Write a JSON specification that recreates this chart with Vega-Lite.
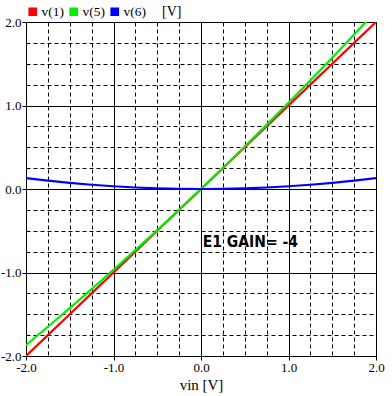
{
  "$schema": "https://vega.github.io/schema/vega-lite/v6.json",
  "width": 350,
  "height": 334,
  "autosize": "none",
  "padding": {"left": 26, "top": 22, "right": 16, "bottom": 40},
  "background": "white",
  "config": {
    "view": {"stroke": "black", "strokeWidth": 1},
    "axis": {
      "domainColor": "black",
      "gridColor": "black",
      "gridOpacity": 1,
      "gridWidth": 1,
      "tickColor": "black",
      "tickSize": 4,
      "labelFont": "Liberation Serif",
      "labelFontSize": 13,
      "labelColor": "black",
      "titleFont": "Liberation Serif",
      "titleFontSize": 15,
      "titleFontWeight": "normal",
      "titleColor": "black"
    }
  },
  "datasets": {
    "curves": [
      {"vin": -2, "series": "v(1)", "value": -2},
      {"vin": -1.75, "series": "v(1)", "value": -1.75},
      {"vin": -1.5, "series": "v(1)", "value": -1.5},
      {"vin": -1.25, "series": "v(1)", "value": -1.25},
      {"vin": -1, "series": "v(1)", "value": -1},
      {"vin": -0.75, "series": "v(1)", "value": -0.75},
      {"vin": -0.5, "series": "v(1)", "value": -0.5},
      {"vin": -0.25, "series": "v(1)", "value": -0.25},
      {"vin": 0, "series": "v(1)", "value": 0},
      {"vin": 0.25, "series": "v(1)", "value": 0.25},
      {"vin": 0.5, "series": "v(1)", "value": 0.5},
      {"vin": 0.75, "series": "v(1)", "value": 0.75},
      {"vin": 1, "series": "v(1)", "value": 1},
      {"vin": 1.25, "series": "v(1)", "value": 1.25},
      {"vin": 1.5, "series": "v(1)", "value": 1.5},
      {"vin": 1.75, "series": "v(1)", "value": 1.75},
      {"vin": 2, "series": "v(1)", "value": 2},
      {"vin": -2, "series": "v(5)", "value": -1.87},
      {"vin": -1.75, "series": "v(5)", "value": -1.65},
      {"vin": -1.5, "series": "v(5)", "value": -1.427},
      {"vin": -1.25, "series": "v(5)", "value": -1.199},
      {"vin": -1, "series": "v(5)", "value": -0.967},
      {"vin": -0.75, "series": "v(5)", "value": -0.732},
      {"vin": -0.5, "series": "v(5)", "value": -0.492},
      {"vin": -0.25, "series": "v(5)", "value": -0.248},
      {"vin": 0, "series": "v(5)", "value": 0},
      {"vin": 0.25, "series": "v(5)", "value": 0.252},
      {"vin": 0.5, "series": "v(5)", "value": 0.508},
      {"vin": 0.75, "series": "v(5)", "value": 0.768},
      {"vin": 1, "series": "v(5)", "value": 1.033},
      {"vin": 1.25, "series": "v(5)", "value": 1.301},
      {"vin": 1.5, "series": "v(5)", "value": 1.573},
      {"vin": 1.75, "series": "v(5)", "value": 1.85},
      {"vin": 2, "series": "v(5)", "value": 2.13},
      {"vin": -2, "series": "v(6)", "value": 0.13},
      {"vin": -1.75, "series": "v(6)", "value": 0.1},
      {"vin": -1.5, "series": "v(6)", "value": 0.073},
      {"vin": -1.25, "series": "v(6)", "value": 0.051},
      {"vin": -1, "series": "v(6)", "value": 0.033},
      {"vin": -0.75, "series": "v(6)", "value": 0.018},
      {"vin": -0.5, "series": "v(6)", "value": 0.008},
      {"vin": -0.25, "series": "v(6)", "value": 0.002},
      {"vin": 0, "series": "v(6)", "value": 0},
      {"vin": 0.25, "series": "v(6)", "value": 0.002},
      {"vin": 0.5, "series": "v(6)", "value": 0.008},
      {"vin": 0.75, "series": "v(6)", "value": 0.018},
      {"vin": 1, "series": "v(6)", "value": 0.033},
      {"vin": 1.25, "series": "v(6)", "value": 0.051},
      {"vin": 1.5, "series": "v(6)", "value": 0.073},
      {"vin": 1.75, "series": "v(6)", "value": 0.1},
      {"vin": 2, "series": "v(6)", "value": 0.13}
    ],
    "note": [
      {"vin": 0.02, "value": -0.64, "label": "E1 GAIN= -4"}
    ]
  },
  "layer": [
    {
      "data": {"name": "curves"},
      "mark": {"type": "line", "clip": true},
      "encoding": {
        "x": {
          "field": "vin",
          "type": "quantitative",
          "scale": {"domain": [-2, 2], "nice": false, "zero": false},
          "axis": {
            "title": "vin [V]",
            "titlePadding": 3,
            "tickCount": 40,
            "values": [-2, -1.75, -1.5, -1.25, -1, -0.75, -0.5, -0.25, 0, 0.25, 0.5, 0.75, 1, 1.25, 1.5, 1.75, 2],
            "labelExpr": "datum.value % 1 === 0 ? replace(format(datum.value, '.1f'), '\u2212', '-') : ''",
            "labelPadding": 1,
            "labelFlush": false,
            "labelOverlap": false,
            "grid": true,
            "gridDash": {"condition": {"test": "datum.value % 1 === 0", "value": []}, "value": [4, 3]},
            "tickOpacity": {"condition": {"test": "datum.value % 1 === 0", "value": 1}, "value": 0}
          }
        },
        "y": {
          "field": "value",
          "type": "quantitative",
          "scale": {"domain": [-2, 2], "nice": false, "zero": false},
          "axis": {
            "title": null,
            "tickCount": 40,
            "values": [-2, -1.75, -1.5, -1.25, -1, -0.75, -0.5, -0.25, 0, 0.25, 0.5, 0.75, 1, 1.25, 1.5, 1.75, 2],
            "labelExpr": "datum.value % 1 === 0 ? replace(format(datum.value, '.1f'), '\u2212', '-') : ''",
            "labelPadding": 1,
            "labelFlush": false,
            "labelOverlap": false,
            "grid": true,
            "gridDash": {"condition": {"test": "datum.value % 1 === 0", "value": []}, "value": [4, 3]},
            "tickOpacity": {"condition": {"test": "datum.value % 1 === 0", "value": 1}, "value": 0}
          }
        },
        "color": {
          "field": "series",
          "type": "nominal",
          "scale": {"domain": ["v(1)", "v(5)", "v(6)"], "range": ["#ff0000", "#00ee00", "#0000ff"]},
          "legend": {
            "title": "[V]",
            "titleOrient": "right",
            "titleFont": "Liberation Serif",
            "titleFontSize": 14,
            "titleFontWeight": "normal",
            "titleColor": "black",
            "titlePadding": 16,
            "orient": "none",
            "legendX": 0,
            "legendY": -17,
            "direction": "horizontal",
            "gridAlign": "none",
            "symbolType": "square",
            "symbolSize": 42,
            "symbolStrokeWidth": 1,
            "labelFont": "Liberation Serif",
            "labelFontSize": 13.5,
            "labelColor": "black",
            "labelOffset": 2,
            "columnPadding": 2,
            "encode": {
              "symbols": {"update": {"fill": {"scale": "color", "field": "value"}, "stroke": {"value": "#333333"}, "fillOpacity": {"value": 1}}}
            }
          }
        },
        "strokeWidth": {
          "field": "series",
          "type": "nominal",
          "scale": {"domain": ["v(1)", "v(5)", "v(6)"], "range": [2.2, 2.2, 3]},
          "legend": null
        }
      }
    },
    {
      "data": {"name": "note"},
      "mark": {"type": "text", "align": "left", "baseline": "middle", "font": "DejaVu Sans Condensed", "fontSize": 15.5, "fontWeight": "bold", "color": "black"},
      "encoding": {
        "x": {"field": "vin", "type": "quantitative"},
        "y": {"field": "value", "type": "quantitative"},
        "text": {"field": "label"}
      }
    }
  ]
}
